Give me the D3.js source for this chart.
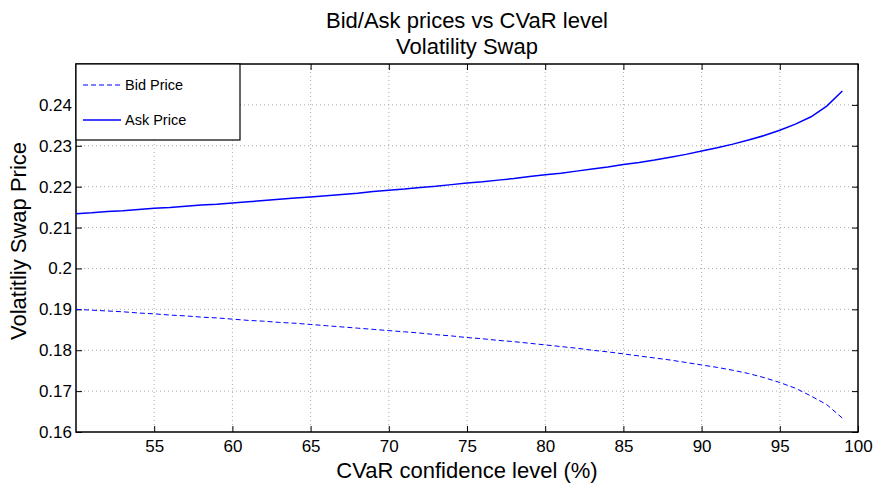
<!DOCTYPE html>
<html>
<head>
<meta charset="utf-8">
<script src="https://cdn.jsdelivr.net/npm/d3@7"></script>
<style>
  body { margin: 0; background: #fff; }
  text { font-family: "Liberation Sans", Arial, sans-serif; fill: #000; }
</style>
</head>
<body>
<div id="chart"></div>
<script>
const levels = d3.range(50, 100);
const askPrice = [
  0.2134, 0.2136, 0.2139, 0.2141, 0.2144, 0.2147, 0.2149, 0.2152, 0.2155, 0.2157,
  0.2160, 0.2163, 0.2166, 0.2169, 0.2172, 0.2175, 0.2178, 0.2181, 0.2184, 0.2188,
  0.2191, 0.2194, 0.2198, 0.2201, 0.2205, 0.2209, 0.2212, 0.2216, 0.2220, 0.2225,
  0.2229, 0.2233, 0.2238, 0.2243, 0.2248, 0.2254, 0.2259, 0.2265, 0.2272, 0.2279,
  0.2287, 0.2295, 0.2304, 0.2314, 0.2325, 0.2338, 0.2353, 0.2371, 0.2397, 0.2434
];
const bidPrice = [
  0.1900, 0.1898, 0.1896, 0.1894, 0.1891, 0.1889, 0.1886, 0.1884, 0.1881, 0.1879,
  0.1876, 0.1873, 0.1871, 0.1868, 0.1866, 0.1863, 0.1860, 0.1857, 0.1854, 0.1851,
  0.1848, 0.1845, 0.1842, 0.1838, 0.1835, 0.1831, 0.1828, 0.1824, 0.1821, 0.1817,
  0.1813, 0.1809, 0.1805, 0.1800, 0.1796, 0.1791, 0.1786, 0.1781, 0.1776, 0.1770,
  0.1764, 0.1758, 0.1751, 0.1743, 0.1733, 0.1721, 0.1707, 0.1688, 0.1667, 0.1634
];
const xTicks = [55, 60, 65, 70, 75, 80, 85, 90, 95, 100];
const yTicks = [0.16, 0.17, 0.18, 0.19, 0.2, 0.21, 0.22, 0.23, 0.24];
const seriesNames = ["Bid Price", "Ask Price"];

let w = 875;
let h = 485;
let pLeft = 76, pRight = 858, pTop = 64, pBottom = 432;

const xScale = d3.scaleLinear().domain([50, 100]).range([pLeft, pRight]);
const yScale = d3.scaleLinear().domain([0.16, 0.25]).range([pBottom, pTop]);

const svg = d3.select("#chart")
              .append("svg")
              .attr("width", w)
              .attr("height", h);

// grid
svg.append("g")
   .selectAll("line")
   .data(xTicks.filter(d => d < 100))
   .enter().append("line")
   .attr("x1", d => xScale(d)).attr("x2", d => xScale(d))
   .attr("y1", pTop).attr("y2", pBottom)
   .attr("stroke", "#aaa").attr("stroke-dasharray", "1,3");

svg.append("g")
   .selectAll("line")
   .data(yTicks.filter(d => d > 0.16))
   .enter().append("line")
   .attr("x1", pLeft).attr("x2", pRight)
   .attr("y1", d => yScale(d)).attr("y2", d => yScale(d))
   .attr("stroke", "#aaa").attr("stroke-dasharray", "1,3");

// axes
const fmt = d => String(+d.toFixed(2));
const xAxis = d3.axisBottom(xScale).tickValues(xTicks).tickSize(-6).tickPadding(8);
const yAxis = d3.axisLeft(yScale).tickValues(yTicks).tickSize(-6).tickPadding(4).tickFormat(fmt);

svg.append("g")
   .attr("transform", "translate(0," + pBottom + ")")
   .call(xAxis);
svg.append("g")
   .attr("transform", "translate(" + pLeft + ",0)")
   .call(yAxis);
svg.append("g")
   .attr("transform", "translate(0," + pTop + ")")
   .call(d3.axisTop(xScale).tickValues(xTicks).tickSize(-6).tickFormat(""));
svg.append("g")
   .attr("transform", "translate(" + pRight + ",0)")
   .call(d3.axisRight(yScale).tickValues(yTicks).tickSize(-6).tickFormat(""));

svg.selectAll(".domain").remove();
svg.selectAll(".tick line").attr("stroke", "#000");
svg.selectAll(".tick text").style("font-size", "17px").attr("fill", "#000");

svg.append("rect")
   .attr("x", pLeft).attr("y", pTop)
   .attr("width", pRight - pLeft).attr("height", pBottom - pTop)
   .attr("fill", "none").attr("stroke", "#000").attr("stroke-width", 1.5);

// lines
const line = d3.line().x((d, i) => xScale(levels[i])).y(d => yScale(d));

svg.append("path")
   .datum(bidPrice)
   .attr("d", line)
   .attr("fill", "none")
   .attr("stroke", "#0000ff")
   .attr("stroke-width", 1)
   .attr("stroke-dasharray", "5,3");

svg.append("path")
   .datum(askPrice)
   .attr("d", line)
   .attr("fill", "none")
   .attr("stroke", "#0000ff")
   .attr("stroke-width", 1.5);

// titles
svg.append("text")
   .attr("x", (pLeft + pRight) / 2).attr("y", 28)
   .attr("text-anchor", "middle").style("font-size", "22px")
   .text("Bid/Ask prices vs CVaR level");
svg.append("text")
   .attr("x", (pLeft + pRight) / 2).attr("y", 54)
   .attr("text-anchor", "middle").style("font-size", "22px")
   .text("Volatility Swap");

svg.append("text")
   .attr("x", (pLeft + pRight) / 2).attr("y", 478)
   .attr("text-anchor", "middle").style("font-size", "22px")
   .text("CVaR confidence level (%)");

svg.append("text")
   .attr("transform", "translate(26,241) rotate(-90)")
   .attr("text-anchor", "middle").style("font-size", "22px")
   .text("Volatitliy Swap Price");

// legend
const legend = svg.append("g");
legend.append("rect")
   .attr("x", pLeft).attr("y", pTop)
   .attr("width", 164).attr("height", 76)
   .attr("fill", "#fff").attr("stroke", "#000").attr("stroke-width", 1.2);

seriesNames.forEach((name, i) => {
  let yy = pTop + 21 + i * 35;
  legend.append("line")
     .attr("x1", pLeft + 7).attr("x2", pLeft + 45)
     .attr("y1", yy).attr("y2", yy)
     .attr("stroke", "#0000ff")
     .attr("stroke-width", i === 0 ? 1 : 1.5)
     .attr("stroke-dasharray", i === 0 ? "5,3" : null);
  legend.append("text")
     .attr("x", pLeft + 49).attr("y", yy + 5)
     .style("font-size", "14.5px")
     .text(name);
});
</script>
</body>
</html>
